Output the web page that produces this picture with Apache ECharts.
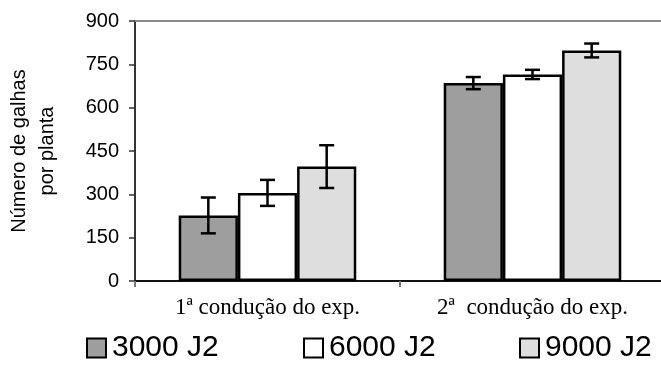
<!DOCTYPE html>
<html>
<head>
<meta charset="utf-8">
<script src="https://cdn.jsdelivr.net/npm/echarts@6/dist/echarts.min.js"></script>
<style>
  html, body { margin: 0; padding: 0; background: #fff; }
  #chart { width: 661px; height: 369px; }
</style>
</head>
<body>
<div id="chart"></div>
<script>
// Galls per plant for three inoculum levels, two runs of the experiment
const categories = ['1ª condução do exp.', '2ª  condução do exp.'];
const seriesNames = ['3000 J2', '6000 J2', '9000 J2'];
const means3000 = [227, 685];
const means6000 = [305, 715];
const means9000 = [396, 798];
const err3000 = [62, 21];
const err6000 = [45, 16];
const err9000 = [74, 24];
const yTicks = [0, 150, 300, 450, 600, 750, 900];

const fills = ['#9e9e9e', '#ffffff', '#dedede'];
const legendLeft = [86, 303, 519];
const means = [means3000, means6000, means9000];
const errs = [err3000, err6000, err9000];
const gapRatio = 0.33;

const chart = echarts.init(document.getElementById('chart'));

const barSeries = seriesNames.map((name, i) => ({
  name: name,
  type: 'bar',
  data: means[i],
  barGap: '0%',
  barCategoryGap: (gapRatio * 100) + '%',
  itemStyle: { color: fills[i], borderColor: '#000', borderWidth: 2.5 },
  z: 2
}));

// whiskers: one item per bar, [category index, low, high, series index]
const whiskerData = [];
seriesNames.forEach((_, s) => {
  categories.forEach((_, c) => {
    whiskerData.push([c, means[s][c] - errs[s][c], means[s][c] + errs[s][c], s]);
  });
});

const errorSeries = {
  type: 'custom',
  data: whiskerData,
  z: 5,
  silent: true,
  encode: { x: 0, y: [1, 2] },
  renderItem: function (params, api) {
    const c = api.value(0);
    const s = api.value(3);
    const low = api.coord([c, api.value(1)]);
    const high = api.coord([c, api.value(2)]);
    const catW = api.size([1, 0])[0];
    const barW = catW * (1 - gapRatio) / seriesNames.length;
    const x = low[0] + (s - (seriesNames.length - 1) / 2) * barW;
    const cap = 7.5;
    const style = { stroke: '#000', lineWidth: 2.5 };
    return {
      type: 'group',
      children: [
        { type: 'line', shape: { x1: x, y1: low[1], x2: x, y2: high[1] }, style: style },
        { type: 'line', shape: { x1: x - cap, y1: low[1], x2: x + cap, y2: low[1] }, style: style },
        { type: 'line', shape: { x1: x - cap, y1: high[1], x2: x + cap, y2: high[1] }, style: style }
      ]
    };
  }
};

// one legend block per series so each sits at its own spot
const legends = seriesNames.map((name, i) => ({
  data: [name],
  left: legendLeft[i],
  top: 333,
  padding: 0,
  icon: 'rect',
  itemWidth: 19,
  itemHeight: 19,
  itemGap: 0,
  textStyle: { fontFamily: 'Liberation Sans, Arial', fontSize: 30, color: '#000', padding: [0, 0, 0, 1] }
}));

chart.setOption({
  animation: false,
  backgroundColor: '#fff',
  grid: { left: 135, right: -4, top: 21, bottom: 88, containLabel: false, outerBoundsMode: 'none' },
  legend: legends,
  xAxis: [{
    type: 'category',
    data: categories,
    axisLine: { lineStyle: { color: '#111', width: 2 } },
    axisTick: { show: true, length: 6, lineStyle: { color: '#777', width: 2 } },
    axisLabel: { margin: 15, fontFamily: 'Liberation Serif, Times New Roman', fontSize: 23, color: '#000' }
  }, {
    type: 'category',
    data: categories,
    position: 'top',
    axisLine: { lineStyle: { color: '#8a8a8a', width: 2 } },
    axisTick: { show: false },
    axisLabel: { show: false }
  }],
  yAxis: {
    type: 'value',
    min: yTicks[0],
    max: yTicks[yTicks.length - 1],
    interval: yTicks[1] - yTicks[0],
    name: 'Número de galhas\npor planta',
    nameLocation: 'middle',
    nameGap: 74,
    nameRotate: 90,
    nameTextStyle: { fontFamily: 'Liberation Sans, Arial', fontSize: 20, color: '#000', lineHeight: 28 },
    axisLine: { show: true, lineStyle: { color: '#333', width: 2 } },
    axisTick: { show: true, length: 6, lineStyle: { color: '#333', width: 1.5 } },
    axisLabel: { margin: 16, fontFamily: 'Liberation Sans, Arial', fontSize: 20, color: '#000' },
    splitLine: { show: false }
  },
  series: barSeries.concat([errorSeries])
});
</script>
</body>
</html>
